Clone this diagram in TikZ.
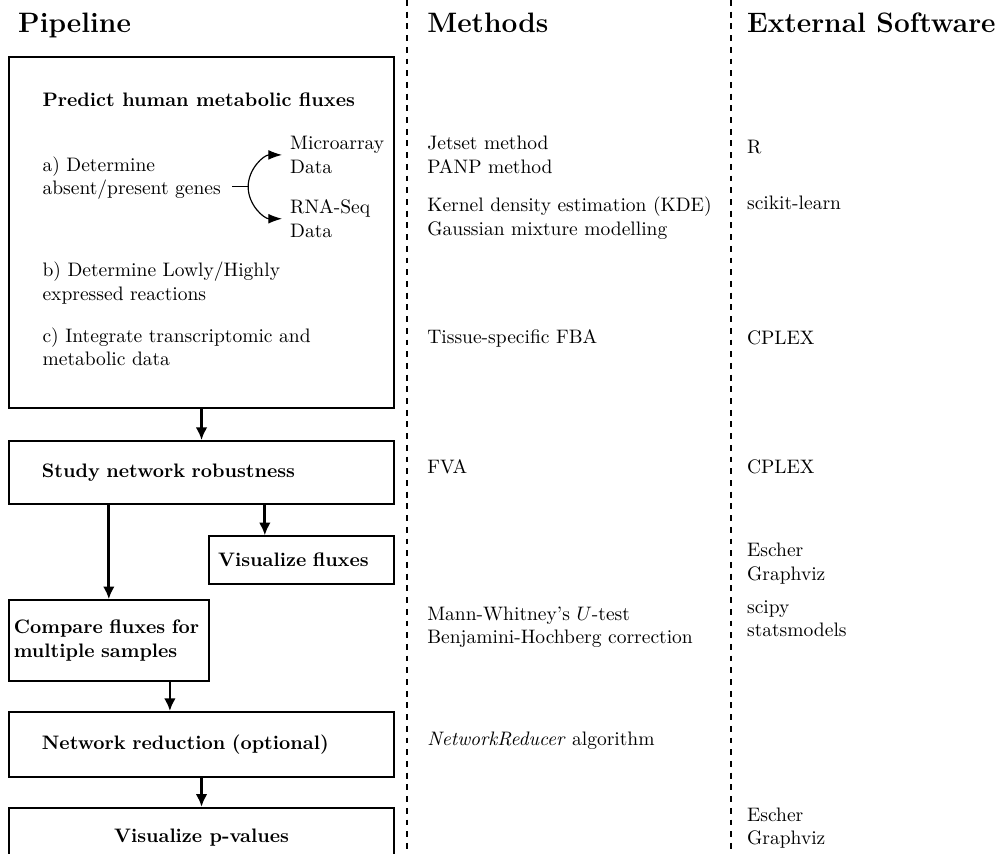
\documentclass[tikz,border=0pt]{standalone}
\usetikzlibrary{arrows.meta,calc}
\begin{document}
\begin{tikzpicture}[
    stage/.style={draw, line width=1pt, rectangle, font=\bfseries, inner sep=0pt},
    txt/.style={inner sep=0pt, align=left},
    head/.style={inner sep=0pt, anchor=base west, font=\Large\bfseries},
    flow/.style={-{Latex[length=6.5pt,width=6pt]}, line width=1.4pt},
    split/.style={-{Latex[length=7pt,width=5pt]}, semithick},
    column/.style={line width=1pt, dashed}
]
    \useasboundingbox (0,0) rectangle (18.03,-15.38);
    \clip (0,0) rectangle (18.03,-15.38);

    \draw[column] (7.33,0) -- (7.33,-15.38);
    \draw[column] (13.17,0) -- (13.17,-15.38);

    \node[head] (hpipe) at (0.32,-0.58) {Pipeline};
    \node[head] (hmeth) at (7.69,-0.58) {Methods};
    \node[head] (hsoft) at (13.45,-0.58) {External Software};

    \node[stage, minimum width=6.93cm, minimum height=6.32cm] (predict) at (3.63,-4.19) {};
    \node[txt, anchor=base west, font=\bfseries] (ptitle) at (0.76,-1.91) {Predict human metabolic fluxes};
    \node[txt, anchor=west] (stepa) at (0.76,-3.21) {a) Determine\\absent/present genes};
    \node[txt, anchor=west, inner xsep=4pt] (micro) at (5.08,-2.79) {Microarray\\Data};
    \node[txt, anchor=west, inner xsep=4pt] (rnaseq) at (5.08,-3.94) {RNA-Seq\\Data};
    \node[txt, anchor=west] (stepb) at (0.76,-5.10) {b) Determine Lowly/Highly\\expressed reactions};
    \node[txt, anchor=west] (stepc) at (0.76,-6.25) {c) Integrate transcriptomic and\\metabolic data};

    \coordinate (fork) at ($(micro.west)!0.5!(rnaseq.west)+(-0.61,0)$);
    \draw[semithick] ([xshift=0.2cm]stepa.east |- fork) -- (fork);
    \draw[split] (fork) to[out=90, in=180] (micro.west);
    \draw[split] (fork) to[out=-90, in=180] (rnaseq.west);

    \node[stage, minimum width=6.93cm, minimum height=1.13cm, text width=5.75cm, align=left] (robust) at (3.63,-8.51) {Study network robustness};
    \node[stage, minimum width=3.33cm, minimum height=0.86cm, text width=3.0cm, align=left] (vflux) at (5.43,-10.09) {Visualize fluxes};
    \node[stage, minimum width=3.60cm, minimum height=1.46cm, text width=3.42cm, align=left] (compare) at (1.96,-11.54) {Compare fluxes for\\multiple samples};
    \node[stage, minimum width=6.93cm, minimum height=1.17cm, text width=5.75cm, align=left] (reduce) at (3.63,-13.41) {Network reduction (optional)};
    \node[stage, minimum width=6.93cm, minimum height=1.06cm] (vpval) at (3.63,-15.08) {Visualize p-values};

    \draw[flow] (predict.south) -- (robust.north);
    \draw[flow] ([xshift=1.14cm]robust.south) -- ([xshift=1.14cm]robust.south |- vflux.north);
    \draw[flow] (compare.north |- robust.south) -- (compare.north);
    \draw[flow] ([xshift=1.1cm]compare.south) -- ([xshift=1.1cm]compare.south |- reduce.north);
    \draw[flow] (reduce.south) -- (vpval.north);

    \node[txt, anchor=west] (jetset) at (7.69,-2.79) {Jetset method\\PANP method};
    \node[txt, anchor=west] (kde) at (7.69,-3.93) {Kernel density estimation (KDE)\\Gaussian mixture modelling};
    \node[txt, anchor=base west] (tfba) at (7.69,-6.18) {Tissue-specific FBA};
    \node[txt, anchor=base west] (fva) at (7.69,-8.52) {FVA};
    \node[txt, anchor=west] (mwu) at (7.69,-11.30) {Mann-Whitney's $U$-test\\Benjamini-Hochberg correction};
    \node[txt, anchor=base west] (nred) at (7.69,-13.42) {\textit{NetworkReducer} algorithm};

    \node[txt, anchor=base west] (rsoft) at (13.45,-2.76) {R};
    \node[txt, anchor=base west] (sklearn) at (13.45,-3.78) {scikit-learn};
    \node[txt, anchor=base west] (cplexa) at (13.45,-6.21) {CPLEX};
    \node[txt, anchor=base west] (cplexb) at (13.45,-8.52) {CPLEX};
    \node[txt, anchor=west] (vizflux) at (13.45,-10.15) {Escher\\Graphviz};
    \node[txt, anchor=west] (stats) at (13.45,-11.14) {scipy\\statsmodels};
    \node[txt, anchor=west] (vizpval) at (13.45,-14.92) {Escher\\Graphviz};
\end{tikzpicture}
\end{document}
